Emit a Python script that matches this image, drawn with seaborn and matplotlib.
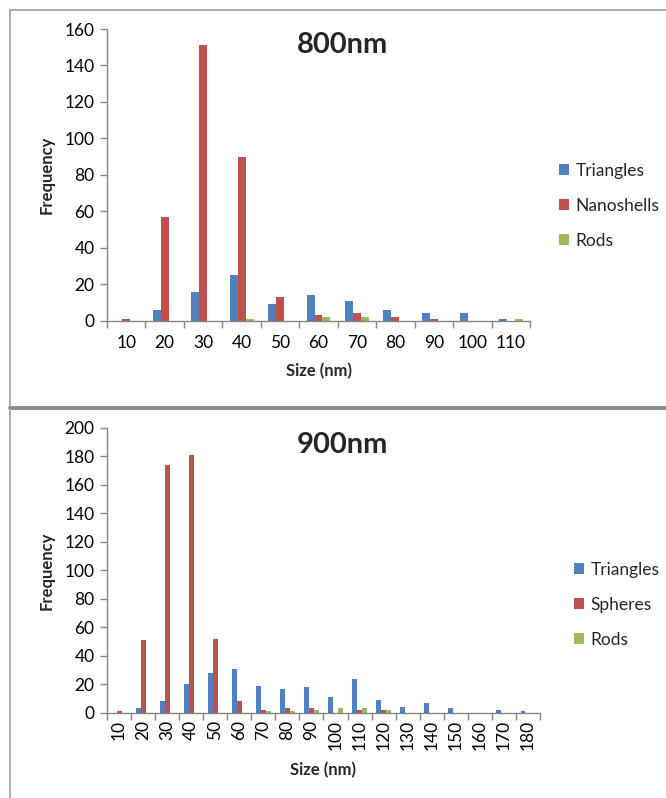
import matplotlib
matplotlib.use("Agg")
import matplotlib.pyplot as plt
from matplotlib.lines import Line2D
import seaborn as sns
import pandas as pd

# ---- data ----
sizes_800 = ["10", "20", "30", "40", "50", "60", "70", "80", "90", "100", "110"]
triangles_800 = [0, 6, 16, 25, 9, 14, 11, 6, 4, 4, 1]
nanoshells_800 = [1, 57, 151, 90, 13, 3, 4, 2, 1, 0, 0]
rods_800 = [0, 0, 0, 1, 0, 2, 2, 0, 0, 0, 1]

sizes_900 = ["10", "20", "30", "40", "50", "60", "70", "80", "90", "100",
             "110", "120", "130", "140", "150", "160", "170", "180"]
triangles_900 = [0, 3, 8, 20, 28, 31, 19, 17, 18, 11, 24, 9, 4, 7, 3, 0, 2, 1]
spheres_900 = [1, 51, 174, 181, 52, 8, 2, 3, 3, 0, 2, 2, 0, 0, 0, 0, 0, 0]
rods_900 = [0, 0, 0, 0, 0, 0, 1, 1, 2, 3, 3, 2, 0, 0, 0, 0, 0, 0]

BLUE, RED, GREEN = "#4F81BD", "#C0504D", "#9BBB59"
AXC = "#868686"

sns.set_theme(style="white")
plt.rcParams["font.family"] = ["Lato", "DejaVu Sans"]

W, H = 666, 798
fig = plt.figure(figsize=(W / 100, H / 100), dpi=100)


def fx(px):
    return px / W


def fy(py):
    return 1 - py / H


def long_df(sizes, series):
    rows = []
    for name, vals in series:
        for s, v in zip(sizes, vals):
            rows.append({"Size": s, "Frequency": v, "Series": name})
    return pd.DataFrame(rows)


def panel(rect, sizes, series, ymax, ystep, title, title_y, leg_y, leg_x, rotate, xlpad):
    ax = fig.add_axes(rect)
    df = long_df(sizes, series)
    names = [n for n, _ in series]
    sns.barplot(data=df, x="Size", y="Frequency", hue="Series", order=sizes,
                hue_order=names, palette=[BLUE, RED, GREEN], width=0.62,
                saturation=1, edgecolor="none", linewidth=0, ax=ax, errorbar=None)
    n = len(sizes)
    ax.set_xlim(-0.5, n - 0.5)
    ax.set_ylim(0, ymax)
    ax.set_yticks(range(0, ymax + 1, ystep))
    ax.set_xticks(range(n))
    ax.set_xticklabels(sizes, rotation=90 if rotate else 0)
    ax.set_xticks([i - 0.5 for i in range(n + 1)], minor=True)
    ax.tick_params(axis="x", which="major", length=0, labelsize=12.5,
                   pad=10 if not rotate else 5, labelcolor="black")
    ax.tick_params(axis="x", which="minor", length=5, width=1, color=AXC, direction="out",
                   bottom=True)
    ax.tick_params(axis="y", length=5, width=1, color=AXC, direction="out", left=True,
                   labelsize=12.5, pad=4, labelcolor="black")
    for s in ["top", "right"]:
        ax.spines[s].set_visible(False)
    for s in ["left", "bottom"]:
        ax.spines[s].set_color(AXC)
        ax.spines[s].set_linewidth(1)
    ax.set_xlabel("Size (nm)", fontsize=12, fontweight="bold", labelpad=xlpad)
    ax.set_ylabel("Frequency", fontsize=12, fontweight="bold", labelpad=7)
    h, l = ax.get_legend_handles_labels()
    if ax.get_legend() is not None:
        ax.get_legend().remove()
    fig.legend(h, l, loc="center left", bbox_to_anchor=(fx(leg_x), fy(leg_y)),
               frameon=False, fontsize=12.5, handlelength=0.6, handleheight=0.6,
               handletextpad=0.35, labelspacing=1.1, borderpad=0, borderaxespad=0)
    fig.text(fx(342), fy(title_y), title, fontsize=21, fontweight="bold",
             ha="center", va="center")
    return ax


ax1 = panel([fx(107), fy(320.7), fx(530) - fx(107), fy(29) - fy(320.7)],
            sizes_800,
            [("Triangles", triangles_800), ("Nanoshells", nanoshells_800), ("Rods", rods_800)],
            160, 20, "800nm", 45, 206, 559, False, 9)

ax2 = panel([fx(107), fy(712.7), fx(540) - fx(107), fy(428) - fy(712.7)],
            sizes_900,
            [("Triangles", triangles_900), ("Spheres", spheres_900), ("Rods", rods_900)],
            200, 20, "900nm", 445, 605, 574, True, 9)

# panel frames
BOR = "#a6a6a6"
fig.add_artist(Line2D([fx(9.5), fx(9.5)], [fy(9.5), fy(407)], transform=fig.transFigure,
                      color=BOR, lw=1.3))
fig.add_artist(Line2D([fx(9.5), 1], [fy(9.5), fy(9.5)], transform=fig.transFigure,
                      color=BOR, lw=1.3))
fig.add_artist(Line2D([fx(9.5), 1], [fy(408), fy(408)], transform=fig.transFigure,
                      color="#8c8c8c", lw=2.8))
fig.add_artist(Line2D([fx(9.5), fx(9.5)], [fy(409), 0], transform=fig.transFigure,
                      color=BOR, lw=1.3))

fig.savefig("out.png", dpi=100)
